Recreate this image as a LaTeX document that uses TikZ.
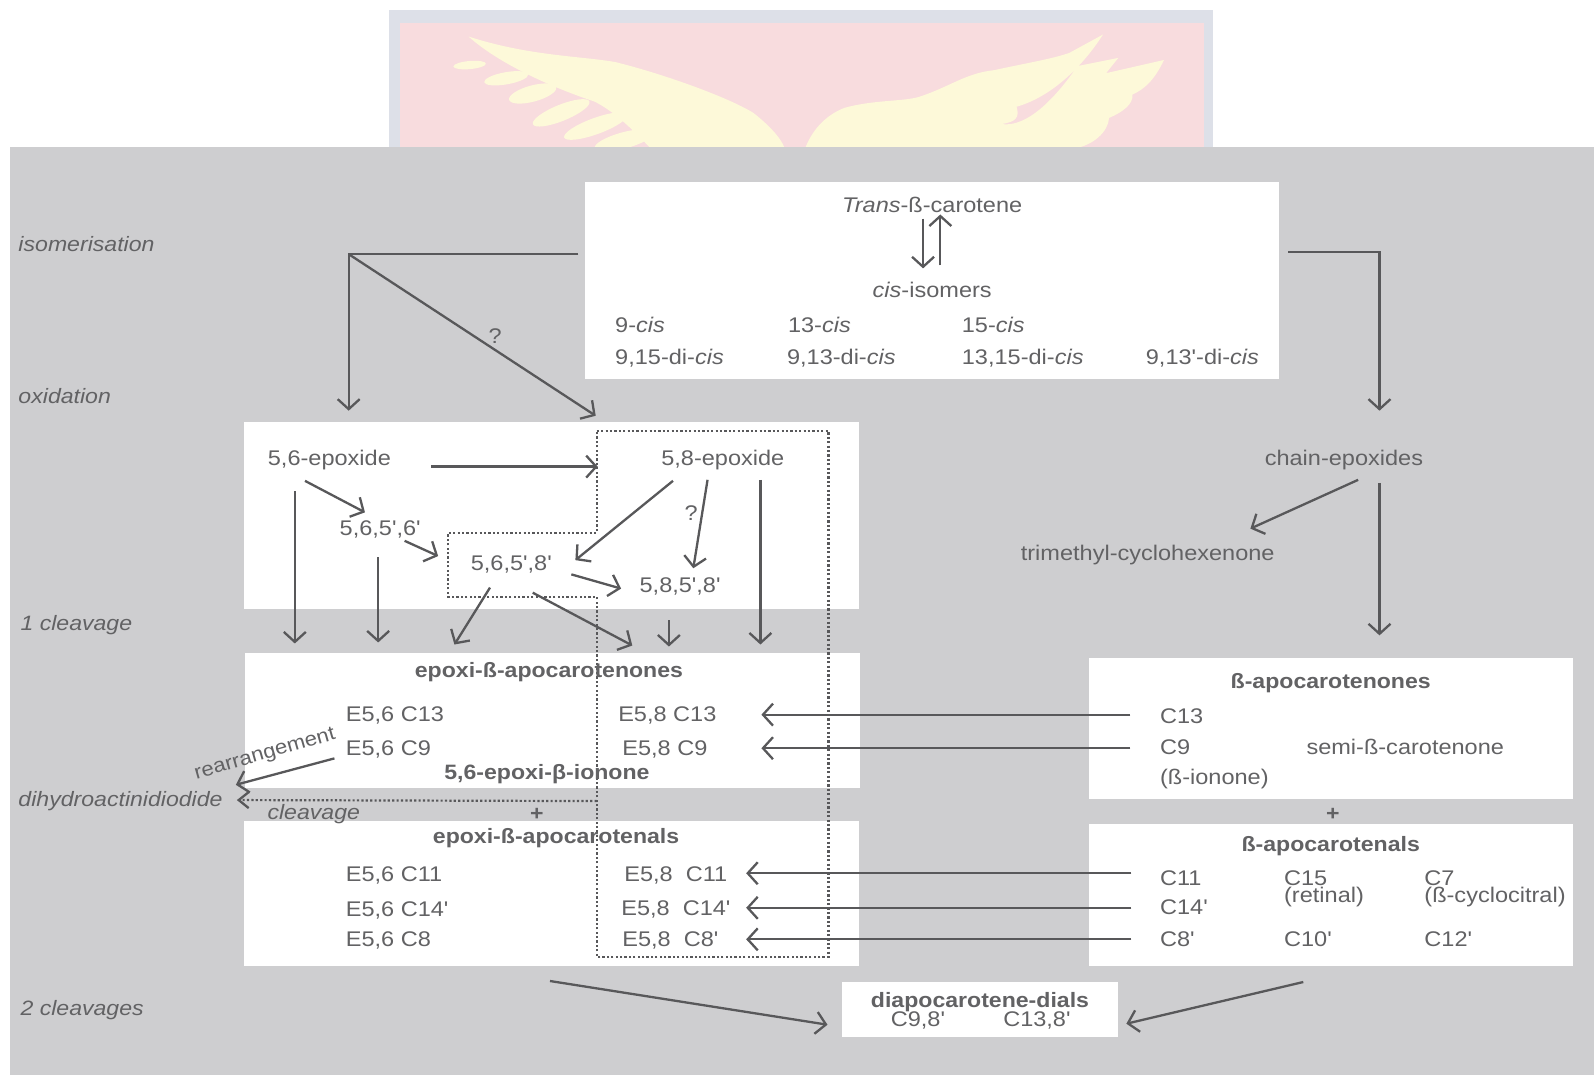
\documentclass[tikz,border=0pt]{standalone}
\usepackage{fontspec}
\setmainfont{Liberation Sans}[Ligatures=TeXOff,FakeStretch=1.11]
\usetikzlibrary{arrows.meta}
\definecolor{bggrey}{HTML}{CECED0}
\definecolor{ink}{HTML}{626264}
\definecolor{arrowink}{HTML}{58585A}
\definecolor{wmframe}{HTML}{DDE0E8}
\definecolor{wmpink}{HTML}{F8DCDE}
\definecolor{wmyellow}{HTML}{FDF9D9}
\tikzset{
  x=1.0166pt,y=-1.0166pt,
  panel/.style={fill=white,draw=none},
  lbl/.style={inner sep=0pt,text=ink,font=\fontsize{21.2}{24}\selectfont,text height=16pt,text depth=2pt},
  lft/.style={lbl,anchor=west},
  ctr/.style={lbl,anchor=center},
  stage/.style={lft,font=\fontsize{20.8}{24}\selectfont\itshape},
  hd/.style={ctr,font=\fontsize{20.8}{24}\selectfont\bfseries},
  arr/.style={draw=arrowink,line width=2.3pt,-{Straight Barb[length=10pt,width=22pt,line width=2.3pt]}},
  thinarr/.style={arr,line width=1.9pt},
  dotbox/.style={draw=arrowink,line width=2.2pt,dash pattern=on 2.2pt off 2.2pt},
}
\begin{document}
\begin{tikzpicture}
\useasboundingbox (0,0) rectangle (1568,1057);
% watermark
\fill[white] (0,0) rectangle (1568,1057);
\fill[wmframe] (383,10) rectangle (1193,146);
\fill[wmpink] (393,23) rectangle (1184,146);
\fill[wmyellow] (461,36) .. controls (520,55) and (570,55) .. (605,61)
   .. controls (650,72) and (715,95) .. (741,111)
   .. controls (755,122) and (768,135) .. (772,146) -- (640,146)
   .. controls (625,130) and (605,110) .. (585,100)
   .. controls (540,85) and (490,62) .. (461,36) -- cycle;
\foreach \cx/\cy/\rx/\ry/\ang in {462/64/16/4/5, 498/77/22/6/10, 524/92/24/8/15, 552/111/30/8/22, 586/124/33/8/20, 614/138/30/8/15}
  \fill[wmyellow] (\cx,\cy) ellipse[x radius=\rx,y radius=\ry,rotate=\ang];
\fill[wmyellow] (792,146) .. controls (800,125) and (815,112) .. (831,106)
   .. controls (860,98) and (890,100) .. (905,95)
   .. controls (935,85) and (950,72) .. (978,69)
   .. controls (1010,62) and (1035,58) .. (1052,52)
   -- (1085,34) .. controls (1065,65) and (1035,95) .. (1000,105)
   .. controls (1003,115) and (1000,120) .. (985,122)
   .. controls (1005,125) and (1030,108) .. (1060,65)
   -- (1100,57) -- (1088,72) -- (1145,59)
   .. controls (1135,80) and (1125,88) .. (1114,93)
   .. controls (1115,102) and (1105,110) .. (1091,116)
   .. controls (1090,130) and (1075,143) .. (1057,146) -- cycle;
% background and panels
\fill[bggrey] (10,145) rectangle (1568,1057);
\path[panel] (575,179) rectangle (1258,373);
\path[panel] (240,415) rectangle (845,599);
\path[panel] (241,642) rectangle (846,775);
\path[panel] (240,808) rectangle (845,950);
\path[panel] (1071,647) rectangle (1547,786);
\path[panel] (1071,811) rectangle (1547,950);
\path[panel] (828,966) rectangle (1100,1020);
% dotted region
\draw[dotbox] (587,424) -- (815,424) -- (815,941) -- (587,941) -- (587,587) -- (441,587) -- (441,524) -- (587,524) -- cycle;
% nodes
\node[ctr] (trans) at (917,202) {\textit{Trans}-ß-carotene};
\node[ctr] (cisiso) at (917,286) {\textit{cis}-isomers};
\node[lft] (c9) at (605,320) {9-\textit{cis}};
\node[lft] (c13) at (775,320) {13-\textit{cis}};
\node[lft] (c15) at (946,320) {15-\textit{cis}};
\node[lft] (c915) at (605,352) {9,15-di-\textit{cis}};
\node[lft] (c913) at (774,352) {9,13-di-\textit{cis}};
\node[lft] (c1315) at (946,352) {13,15-di-\textit{cis}};
\node[lft] (c913p) at (1127,352) {9,13'-di-\textit{cis}};
\node[stage] (sisom) at (18,241) {isomerisation};
\node[stage] (soxid) at (18,390) {oxidation};
\node[stage] (scl1) at (20,613) {1 cleavage};
\node[stage] (sdihy) at (18,786) {dihydroactinidiodide};
\node[stage] (scl2) at (20,992) {2 cleavages};
\node[stage] (scleav) at (263,799) {cleavage};
\node[ctr] (q1) at (487,331) {?};
\node[ctr] (q2) at (680,505) {?};
\node[ctr] (e56) at (324,451) {5,6-epoxide};
\node[ctr] (e58) at (711,451) {5,8-epoxide};
\node[ctr] (a5656) at (374,520) {5,6,5',6'};
\node[ctr] (a5658) at (503,554) {5,6,5',8'};
\node[ctr] (a5858) at (669,576) {5,8,5',8'};
\node[ctr] (chain) at (1322,451) {chain-epoxides};
\node[ctr] (trimeth) at (1129,544) {trimethyl-cyclohexenone};
\node[hd] (hepn) at (540,660) {epoxi-ß-apocarotenones};
\node[lft] (e56c13) at (340,703) {E5,6 C13};
\node[lft] (e56c9) at (340,736) {E5,6 C9};
\node[lft] (e58c13) at (608,703) {E5,8 C13};
\node[lft] (e58c9) at (612,736) {E5,8 C9};
\node[hd] (ionone) at (538,760) {5,6-epoxi-β-ionone};
\node[hd] (plusa) at (528,800) {+};
\node[hd] (hepl) at (547,823) {epoxi-ß-apocarotenals};
\node[lft] (e56c11) at (340,860) {E5,6 C11};
\node[lft] (e56c14) at (340,895) {E5,6 C14'};
\node[lft] (e56c8) at (340,924) {E5,6 C8};
\node[lft] (e58c11) at (614,860) {E5,8\ \ C11};
\node[lft] (e58c14) at (611,894) {E5,8\ \ C14'};
\node[lft] (e58c8) at (612,924) {E5,8\ \ C8'};
\node[hd] (hapn) at (1309,670) {ß-apocarotenones};
\node[lft] (rc13) at (1141,705) {C13};
\node[lft] (rc9) at (1141,735) {C9};
\node[lft] (rion) at (1141,765) {(ß-ionone)};
\node[lft] (semi) at (1285,735) {semi-ß-carotenone};
\node[hd] (plusb) at (1311,800) {+};
\node[hd] (hapl) at (1309,831) {ß-apocarotenals};
\node[lft] (rc11) at (1141,864) {C11};
\node[lft] (rc14) at (1141,893) {C14'};
\node[lft] (rc8) at (1141,924) {C8'};
\node[lft] (rc15) at (1263,864) {C15};
\node[lft] (rret) at (1263,881) {(retinal)};
\node[lft] (rc7) at (1401,864) {C7};
\node[lft] (rcyc) at (1401,881) {(ß-cyclocitral)};
\node[lft] (rc10) at (1263,924) {C10'};
\node[lft] (rc12) at (1401,924) {C12'};
\node[hd] (hdial) at (964,984) {diapocarotene-dials};
\node[ctr] (d98) at (903,1003) {C9,8'};
\node[ctr] (d138) at (1020,1003) {C13,8'};
\node[lbl,anchor=center,rotate=16,font=\fontsize{20}{24}\selectfont] (rearr) at (260,740) {rearrangement};
% connector ends
\coordinate (tl) at (569,250); \coordinate (tlc) at (343,250); \coordinate (tld) at (343,404);
\coordinate (tlq) at (586,409);
\coordinate (tr) at (1267,248); \coordinate (trc) at (1357,248); \coordinate (trd) at (1357,404);
\coordinate (ud1) at (908,215); \coordinate (ud2) at (908,264);
\coordinate (uu1) at (925,261); \coordinate (uu2) at (925,211);
\coordinate (p1a) at (424,459); \coordinate (p1b) at (588,459);
\coordinate (p2a) at (300,473); \coordinate (p2b) at (359,504);
\coordinate (p3a) at (290,483); \coordinate (p3b) at (290,633);
\coordinate (p4a) at (372,548); \coordinate (p4b) at (372,632);
\coordinate (p5a) at (398,532); \coordinate (p5b) at (431,547);
\coordinate (p6a) at (662,473); \coordinate (p6b) at (566,551);
\coordinate (p7a) at (696,472); \coordinate (p7b) at (682,559);
\coordinate (p8a) at (748,472); \coordinate (p8b) at (748,634);
\coordinate (p9a) at (562,565); \coordinate (p9b) at (611,579);
\coordinate (p10a) at (482,578); \coordinate (p10b) at (447,634);
\coordinate (p11a) at (524,583); \coordinate (p11b) at (622,635);
\coordinate (p12a) at (658,610); \coordinate (p12b) at (658,636);
\coordinate (r1a) at (1336,472); \coordinate (r1b) at (1230,520);
\coordinate (r2a) at (1357,475); \coordinate (r2b) at (1357,625);
\coordinate (x1a) at (1112,703); \coordinate (x1b) at (749,703);
\coordinate (x2a) at (1112,736); \coordinate (x2b) at (749,736);
\coordinate (x3a) at (1113,859); \coordinate (x3b) at (734,859);
\coordinate (x4a) at (1113,893); \coordinate (x4b) at (734,893);
\coordinate (x5a) at (1113,924); \coordinate (x5b) at (734,924);
\coordinate (ra) at (329,746); \coordinate (rb) at (232,772);
\coordinate (da) at (587,788); \coordinate (db) at (233,787);
\coordinate (b1a) at (541,965); \coordinate (b1b) at (814,1008);
\coordinate (b2a) at (1282,966); \coordinate (b2b) at (1108,1007);
% connectors
\draw[arr] (tl) -- (tlc) -- (tld);
\draw[arr] (tlc) -- (tlq);
\draw[arr] (tr) -- (trc) -- (trd);
\draw[thinarr] (ud1) -- (ud2);
\draw[thinarr] (uu1) -- (uu2);
\foreach \n in {p1,p2,p3,p4,p5,p6,p7,p8,p9,p10,p11,p12,r1,r2,x3,x4,x5}
  \draw[arr] (\n a) -- (\n b);
\draw[thinarr] (x1a) -- (x1b);
\draw[thinarr] (x2a) -- (x2b);
\draw[arr] (ra) -- (rb);
\draw[draw=arrowink,line width=2.2pt,dash pattern=on 2.2pt off 2.2pt,-{Straight Barb[length=10pt,width=16pt,line width=2.3pt]}] (da) -- (db);
\draw[arr] (b1a) -- (b1b);
\draw[arr] (b2a) -- (b2b);
\end{tikzpicture}
\end{document}
